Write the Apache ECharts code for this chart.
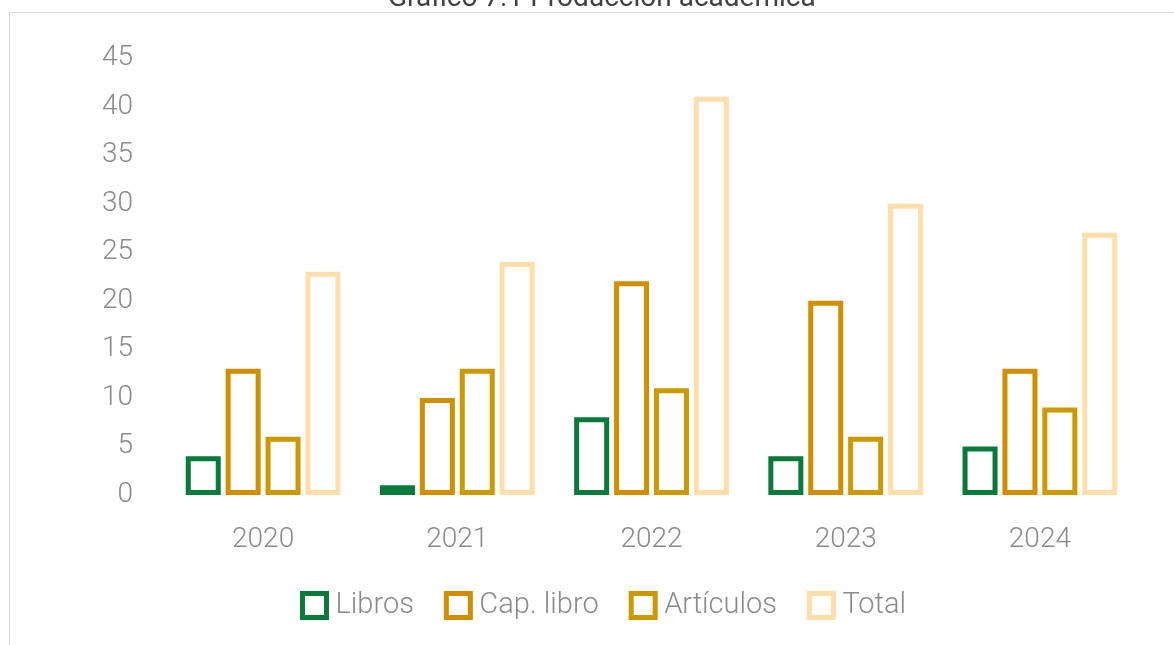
<!DOCTYPE html>
<html>
<head>
<meta charset="utf-8">
<script src="https://cdn.jsdelivr.net/npm/echarts@6/dist/echarts.min.js"></script>
<style>
  html, body { margin: 0; padding: 0; background: #fff; }
  #main { width: 1174px; height: 645px; }
</style>
</head>
<body>
<div id="main"></div>
<script>
var years = ['2020', '2021', '2022', '2023', '2024'];
var libros = [4, 1, 8, 4, 5];
var capLibro = [13, 10, 22, 20, 13];
var articulos = [6, 13, 11, 6, 9];
var total = [23, 24, 41, 30, 27];
var yTicks = [0, 5, 10, 15, 20, 25, 30, 35, 40, 45];

var chart = (function () {
    var font = 'Roboto, "Liberation Sans", sans-serif';
    var grey = '#8a8a8a';

    function barSeries(name, data, color) {
        return {
            name: name,
            type: 'bar',
            data: data,
            barWidth: 35,
            barGap: '14%',
            itemStyle: {
                color: '#ffffff',
                borderColor: color,
                borderWidth: 5
            }
        };
    }

    function init() {
        var myChart = echarts.init(document.getElementById('main'));
        var option = {
            backgroundColor: '#ffffff',
            animation: false,
            title: {
                text: 'Gráfico 7.1 Producción académica',
                left: 383,
                top: -20,
                textStyle: {
                    color: '#404040',
                    fontFamily: font,
                    fontWeight: 'normal',
                    fontSize: 28
                }
            },
            graphic: [{
                type: 'rect',
                shape: { x: 9.5, y: 12.5, width: 1300, height: 800 },
                style: { fill: 'none', stroke: '#d9d9d9', lineWidth: 1 },
                silent: true
            }],
            legend: {
                bottom: 20,
                left: 295,
                icon: 'rect',
                itemWidth: 24,
                itemHeight: 24,
                itemGap: 30,
                itemStyle: { borderWidth: 5 },
                textStyle: {
                    color: grey,
                    fontFamily: font,
                    fontWeight: 300,
                    fontSize: 29,
                    padding: [0, 0, 0, 4]
                },
                data: ['Libros', 'Cap. libro', 'Artículos', 'Total']
            },
            grid: {
                left: 166,
                right: 37,
                top: 58,
                bottom: 150
            },
            xAxis: {
                type: 'category',
                data: years,
                axisLine: { show: false },
                axisTick: { show: false },
                axisLabel: {
                    color: grey,
                    fontFamily: font,
                    fontWeight: 300,
                    fontSize: 28,
                    margin: 31
                }
            },
            yAxis: {
                type: 'value',
                min: yTicks[0],
                max: yTicks[yTicks.length - 1],
                interval: 5,
                axisLine: { show: false },
                axisTick: { show: false },
                splitLine: { show: false },
                axisLabel: {
                    color: grey,
                    fontFamily: font,
                    fontWeight: 300,
                    fontSize: 28,
                    margin: 33
                }
            },
            series: [
                barSeries('Libros', libros, '#0a7a3a'),
                barSeries('Cap. libro', capLibro, '#d18f00'),
                barSeries('Artículos', articulos, '#cc9a00'),
                barSeries('Total', total, '#ffdeaa')
            ]
        };
        myChart.setOption(option);
        return myChart;
    }
    return init();
})();
</script>
</body>
</html>
